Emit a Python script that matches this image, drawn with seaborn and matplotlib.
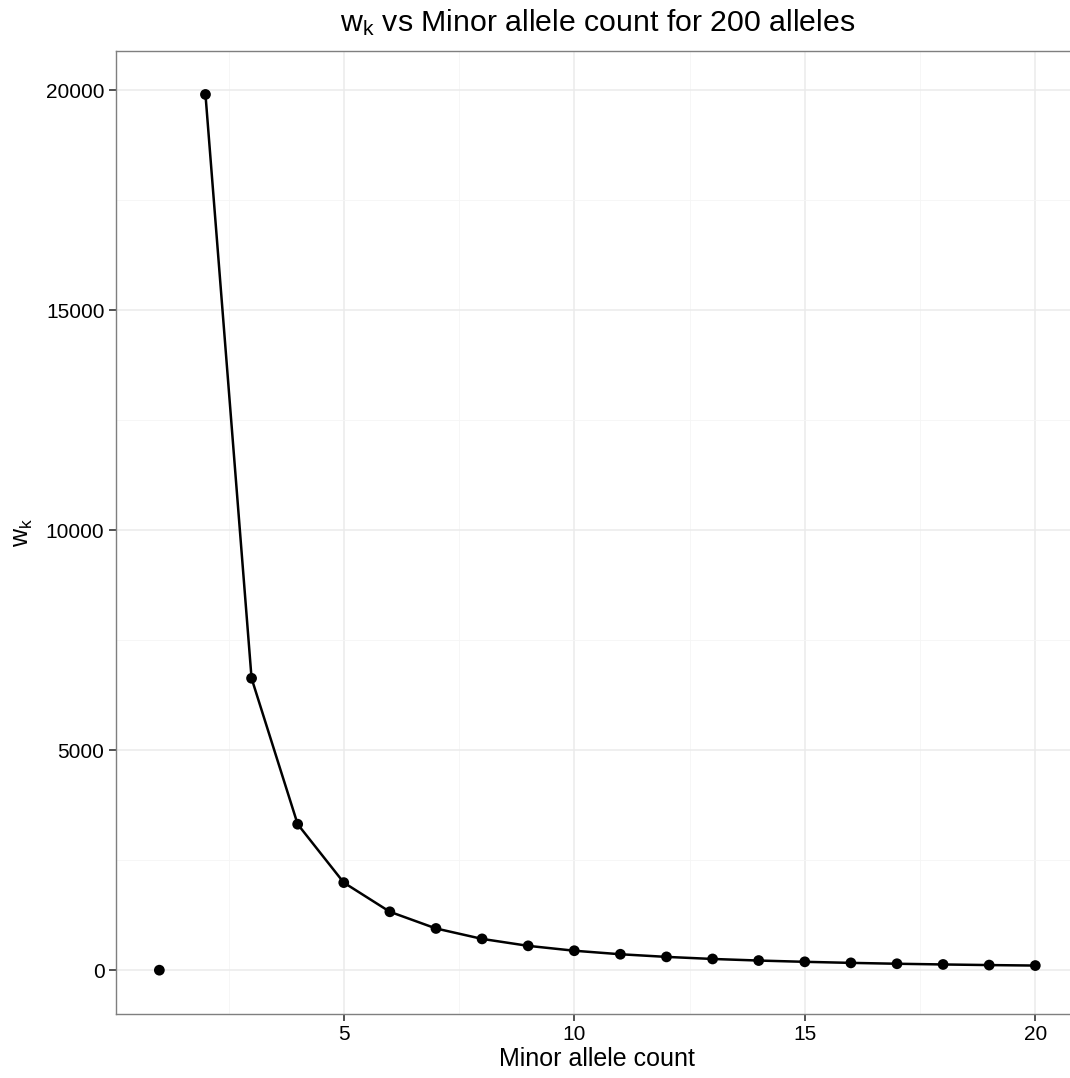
import matplotlib
matplotlib.use('Agg')
import matplotlib.pyplot as plt
import seaborn as sns
import pandas as pd
import numpy as np

# minor allele count k and weight w_k (200 alleles)
minor_count = [1, 2, 3, 4, 5, 6, 7, 8, 9, 10, 11, 12, 13, 14, 15, 16, 17, 18, 19, 20]
w_k = [0, 19900, 6633, 3317, 1990, 1327, 948, 711, 553, 442,
       362, 302, 255, 219, 190, 166, 146, 130, 116, 105]

df = pd.DataFrame({'k': minor_count, 'w': w_k})

sns.set_style('white', {'xtick.bottom': True, 'ytick.left': True})
plt.rcParams['font.family'] = ['Liberation Sans', 'DejaVu Sans']
plt.rcParams['mathtext.fontset'] = 'custom'
plt.rcParams['mathtext.rm'] = 'Liberation Sans'
plt.rcParams['text.color'] = 'black'
plt.rcParams['axes.labelcolor'] = 'black'

fig = plt.figure(figsize=(10.7, 10.78), dpi=100)
ax = fig.add_axes([0.108, 0.0594, 0.9005, 0.8936])

# line leaves out k = 1
sns.lineplot(data=df[df['k'] >= 2], x='k', y='w', color='black', linewidth=1.8, ax=ax, zorder=3)
sns.scatterplot(data=df, x='k', y='w', color='black', s=60, edgecolor='none', ax=ax, zorder=4)

xr = max(minor_count) - min(minor_count)
ax.set_xlim(min(minor_count) - 0.05 * xr, max(minor_count) + 0.05 * xr)
yr = max(w_k) - min(w_k)
ax.set_ylim(min(w_k) - 0.05 * yr, max(w_k) + 0.05 * yr)

ax.set_xticks([5, 10, 15, 20])
ax.set_xticks([2.5, 7.5, 12.5, 17.5], minor=True)
ax.set_yticks([0, 5000, 10000, 15000, 20000])
ax.set_yticks([2500, 7500, 12500, 17500], minor=True)

ax.grid(which='major', color='#EBEBEB', linewidth=1.1)
ax.grid(which='minor', color='#F5F5F5', linewidth=0.6)
ax.set_axisbelow(True)

for s in ax.spines.values():
    s.set_color('#7F7F7F')
    s.set_linewidth(1.0)

ax.tick_params(axis='both', which='major', direction='out', length=5, width=1.2,
               color='#333333', labelsize=15, labelcolor='black', pad=3,
               bottom=True, left=True)
ax.tick_params(axis='both', which='minor', length=0)

ax.set_xlabel('Minor allele count', fontsize=18, labelpad=2)
ax.set_ylabel(r'$\mathregular{w_k}$', fontsize=18, labelpad=8)
ax.set_title(r'$\mathregular{w_k}$ vs Minor allele count for 200 alleles', fontsize=21.8, pad=14)

fig.savefig('out.png', dpi=100)
